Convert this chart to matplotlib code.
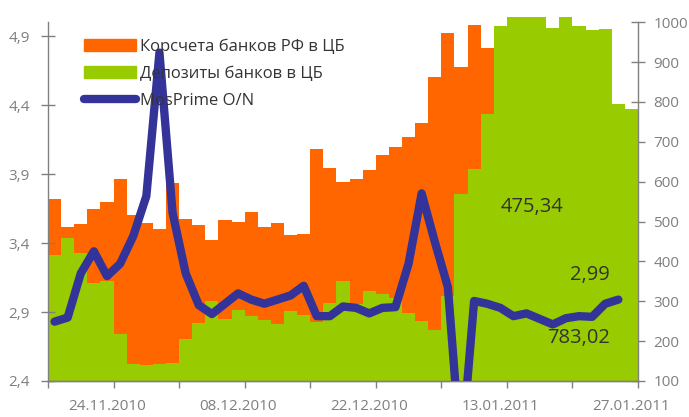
import numpy as np
import matplotlib
matplotlib.use('Agg')
import matplotlib.pyplot as plt
from matplotlib.lines import Line2D
from matplotlib.patches import Patch

plt.rcParams['font.family'] = ['Open Sans', 'DejaVu Sans']

# data
korscheta = [557, 486, 494, 532, 550, 607, 517, 496, 481, 597,
             506, 491, 455, 504, 499, 524, 486, 496, 466, 469,
             682, 634, 599, 607, 629, 667, 687, 712, 747, 863,
             973, 888, 993, 935, 700, 640, 600, 560, 540, 520,
             505, 495, 488, 480, 475.34]
deposits = [416, 460, 421, 347, 351, 219, 143, 141, 143, 145,
            205, 246, 301, 256, 278, 263, 253, 243, 276, 266,
            248, 296, 351, 292, 326, 318, 307, 271, 251, 229,
            313, 569, 633, 770, 991, 1013, 1013, 1013, 986, 1013,
            991, 980, 982, 795, 783.02]
mosprime = [2.83, 2.86, 3.18, 3.34, 3.16, 3.25, 3.45, 3.74, 4.78, 3.62,
            3.18, 2.95, 2.885, 2.96, 3.035, 2.99, 2.96, 2.99, 3.02, 3.09,
            2.87, 2.87, 2.94, 2.93, 2.89, 2.93, 2.935, 3.25, 3.76, 3.41,
            3.08, 1.85, 2.98, 2.96, 2.93, 2.87, 2.89, 2.85, 2.81, 2.855,
            2.87, 2.865, 2.96, 2.99]
date_pos = [4, 14, 24, 34, 44]
date_labels = ['24.11.2010', '08.12.2010', '22.12.2010', '13.01.2011', '27.01.2011']
left_ticks = [2.4, 2.9, 3.4, 3.9, 4.4, 4.9]
right_ticks = [100, 200, 300, 400, 500, 600, 700, 800, 900, 1000]

ORANGE = '#FF6600'; GREEN = '#99CC00'; BLUE = '#333399'; GRAY = '#808080'; TXT = '#7f7f7f'

fig = plt.figure(figsize=(6.89, 4.17), dpi=100)
W, H = 689, 417
ax = fig.add_axes([48 / W, 36 / H, 590 / W, (381 - 16.3) / H])
ax2 = ax.twinx()
ax.set_zorder(ax2.get_zorder() + 1); ax.patch.set_visible(False)

n = len(deposits)
x = np.arange(n)
ax2.bar(x, korscheta, width=1.0, color=ORANGE, linewidth=0, zorder=1)
ax2.bar(x, deposits, width=1.0, color=GREEN, linewidth=0, zorder=2)
ax2.set_ylim(100, 1015)
ax.set_ylim(2.4, 5.0 + 15 / 346.15)
ax.set_xlim(-0.5, n - 0.5)

xl = np.arange(len(mosprime))
ax.plot(xl, mosprime, color=BLUE, lw=6, solid_capstyle='round', solid_joinstyle='round', zorder=5)

# axes styling
for a in (ax, ax2):
    a.spines['top'].set_visible(False)
    for s in ('left', 'right', 'bottom'):
        a.spines[s].set_color(GRAY); a.spines[s].set_linewidth(1.0)
ax.spines['right'].set_visible(False)
ax2.spines['left'].set_visible(False)
ax.spines['left'].set_bounds(2.4, 5.0)
ax2.spines['right'].set_bounds(100, 1000)

ax.set_yticks(left_ticks, [f'{v:.1f}'.replace('.', ',') for v in left_ticks])
ax.tick_params(axis='y', direction='inout', length=10, width=1, color=GRAY, labelcolor=TXT, labelsize=11, pad=8)
ax2.set_yticks(right_ticks, [str(v) for v in right_ticks])
ax2.tick_params(axis='y', direction='inout', length=10, width=1, color=GRAY, labelcolor=TXT, labelsize=11, pad=6)

ax.set_xticks(np.arange(-0.5, n, 5))
ax.set_xticklabels([])
ax.tick_params(axis='x', which='major', direction='out', length=5, width=1, color=GRAY)
ax.set_xticks(date_pos, minor=True)
ax.set_xticklabels(date_labels, minor=True)
ax.tick_params(axis='x', which='minor', length=0, labelcolor=TXT, labelsize=11, pad=13)

# legend
handles = [Patch(color=ORANGE), Patch(color=GREEN),
           Line2D([], [], color=BLUE, lw=6, solid_capstyle='round')]
labels = ['Корсчета банков РФ в ЦБ', 'Депозиты банков в ЦБ', 'MosPrime O/N']
leg = ax.legend(handles, labels, loc='upper left', bbox_to_anchor=(0.05, 0.957), frameon=False,
                fontsize=12, handlelength=3.1, handleheight=0.72, handletextpad=0.25, labelspacing=0.67,
                borderaxespad=0)
for t in leg.get_texts():
    t.set_color('#333333')

# data labels
ax.text(0.821, 0.476, '475,34', transform=ax.transAxes, ha='center', va='center', fontsize=14.5, color='#333333', zorder=6)
ax.text(0.918, 0.291, '2,99', transform=ax.transAxes, ha='center', va='center', fontsize=14.5, color='#333333', zorder=6)
ax.text(0.899, 0.119, '783,02', transform=ax.transAxes, ha='center', va='center', fontsize=14.5, color='#333333', zorder=6)

fig.savefig('out.png', dpi=100)
